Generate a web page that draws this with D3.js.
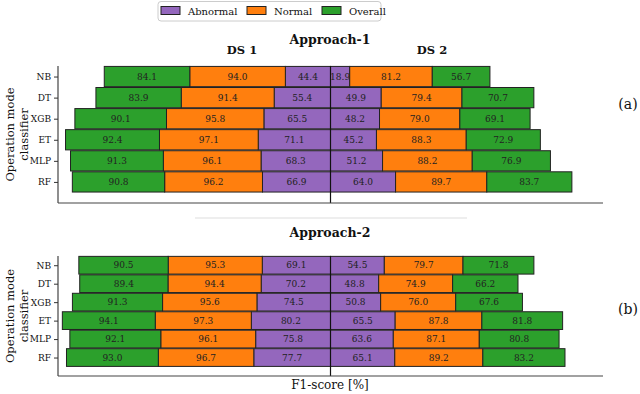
<!DOCTYPE html>
<html><head><meta charset="utf-8">
<script src="https://cdn.jsdelivr.net/npm/d3@7"></script>
<style>body{margin:0;background:#fff}svg{display:block}</style>
</head><body><svg id="c" width="640" height="394" font-family="'DejaVu Serif', 'Liberation Serif', serif"></svg>
<script>
const FONT = "DejaVu Serif";
const classifiers = ["NB","DT","XGB","ET","MLP","RF"];
const seriesNames = ["Abnormal","Normal","Overall"];
const colors = ["#9467bd","#ff7f0e","#2ca02c"];
// Approach-1
const a1_ds1_abnormal = [44.4,55.4,65.5,71.1,68.3,66.9];
const a1_ds1_normal   = [94.0,91.4,95.8,97.1,96.1,96.2];
const a1_ds1_overall  = [84.1,83.9,90.1,92.4,91.3,90.8];
const a1_ds2_abnormal = [18.9,49.9,48.2,45.2,51.2,64.0];
const a1_ds2_normal   = [81.2,79.4,79.0,88.3,88.2,89.7];
const a1_ds2_overall  = [56.7,70.7,69.1,72.9,76.9,83.7];
// Approach-2
const a2_ds1_abnormal = [69.1,70.2,74.5,80.2,75.8,77.7];
const a2_ds1_normal   = [95.3,94.4,95.6,97.3,96.1,96.7];
const a2_ds1_overall  = [90.5,89.4,91.3,94.1,92.1,93.0];
const a2_ds2_abnormal = [54.5,48.8,50.8,65.5,63.6,65.1];
const a2_ds2_normal   = [79.7,74.9,76.0,87.8,87.1,89.2];
const a2_ds2_overall  = [71.8,66.2,67.6,81.8,80.8,83.2];

const svg = d3.select("#c");
function T(sel){ return sel.append("text").attr("font-family",FONT).attr("fill","#111"); }

function panel(cfg){
  const g = svg.append("g");
  const x = d3.scaleLinear().domain([-cfg.lim, cfg.lim]).range([58, 603]);
  const y = d3.scaleLinear().domain([-0.5, 6]).range([cfg.top, cfg.bottom]);
  const step = y(1) - y(0);
  const bh = step * 0.96;
  const sides = [
    {sign:-1, vals:cfg.ds1},
    {sign: 1, vals:cfg.ds2}
  ];
  sides.forEach(side=>{
    classifiers.forEach((c,i)=>{
      let acc = 0;
      side.vals.forEach((arr,k)=>{
        const v = arr[i];
        const a = side.sign*acc, b = side.sign*(acc+v);
        const x0 = x(Math.min(a,b)), x1 = x(Math.max(a,b));
        g.append("rect").attr("x",x0).attr("y",y(i)-bh/2).attr("width",x1-x0).attr("height",bh)
          .attr("fill",colors[k]).attr("stroke","#222").attr("stroke-width",1);
        T(g).attr("x",(x0+x1)/2).attr("y",y(i)).attr("dy","0.35em")
          .attr("text-anchor","middle").attr("font-size",9).attr("fill","#222").text(v.toFixed(1));
        acc += v;
      });
    });
  });
  g.append("line").attr("x1",x(0)).attr("x2",x(0)).attr("y1",cfg.top).attr("y2",cfg.bottom)
    .attr("stroke","#111").attr("stroke-width",1.2);
  g.append("line").attr("x1",58).attr("x2",58).attr("y1",cfg.top).attr("y2",cfg.bottom).attr("stroke","#444").attr("stroke-width",1.2);
  g.append("line").attr("x1",58).attr("x2",603).attr("y1",cfg.bottom).attr("y2",cfg.bottom).attr("stroke","#444").attr("stroke-width",1.2);
  const ax = d3.axisLeft(y).tickValues(d3.range(classifiers.length)).tickFormat(i=>classifiers[i]).tickSize(4).tickPadding(3);
  const axg = g.append("g").attr("transform","translate(58,0)").call(ax);
  axg.attr("font-family",FONT);
  axg.select(".domain").remove();
  axg.selectAll("line").attr("stroke","#333");
  axg.selectAll("text").attr("font-size",9).attr("font-family",FONT).attr("fill","#111");
  const cy = (cfg.top+cfg.bottom)/2;
  T(g).attr("transform",`translate(10,${cy}) rotate(-90)`).attr("dy","0.35em").attr("text-anchor","middle").attr("font-size",11.5).text("Operation mode");
  T(g).attr("transform",`translate(23.5,${cy}) rotate(-90)`).attr("dy","0.35em").attr("text-anchor","middle").attr("font-size",11.5).text("classifier");
  T(g).attr("x",628).attr("y",cfg.tagY).attr("dy","0.35em").attr("text-anchor","middle").attr("font-size",14).text(cfg.tag);
  T(g).attr("x",330).attr("y",cfg.titleY).attr("dy","0.35em").attr("text-anchor","middle").attr("font-size",12.5).attr("font-weight","bold").text(cfg.title);
}

panel({lim:268, top:66, bottom:203, ds1:[a1_ds1_abnormal,a1_ds1_normal,a1_ds1_overall], ds2:[a1_ds2_abnormal,a1_ds2_normal,a1_ds2_overall], tag:"(a)", tagY:104, title:"Approach-1", titleY:40});
panel({lim:276, top:256, bottom:376, ds1:[a2_ds1_abnormal,a2_ds1_normal,a2_ds1_overall], ds2:[a2_ds2_abnormal,a2_ds2_normal,a2_ds2_overall], tag:"(b)", tagY:309, title:"Approach-2", titleY:233});

T(svg).attr("x",242).attr("y",50).attr("dy","0.35em").attr("text-anchor","middle").attr("font-size",11.5).attr("font-weight","bold").text("DS 1");
T(svg).attr("x",432).attr("y",50).attr("dy","0.35em").attr("text-anchor","middle").attr("font-size",11.5).attr("font-weight","bold").text("DS 2");
svg.append("line").attr("x1",195).attr("x2",467).attr("y1",218).attr("y2",218).attr("stroke","#ddd").attr("stroke-width",1);
T(svg).attr("x",330).attr("y",385).attr("dy","0.35em").attr("text-anchor","middle").attr("font-size",12).text("F1-score [%]");

const lg = svg.append("g");
lg.append("rect").attr("x",158).attr("y",1.5).attr("width",223).attr("height",19.5).attr("rx",3).attr("fill","#fff").attr("stroke","#ccc");
const lx = [161,247,322];
seriesNames.forEach((n,k)=>{
  lg.append("rect").attr("x",lx[k]).attr("y",6.5).attr("width",19).attr("height",8).attr("fill",colors[k]).attr("stroke","#222");
  T(lg).attr("x",lx[k]+27).attr("y",11).attr("dy","0.35em").attr("font-size",10).text(n);
});
</script></body></html>
